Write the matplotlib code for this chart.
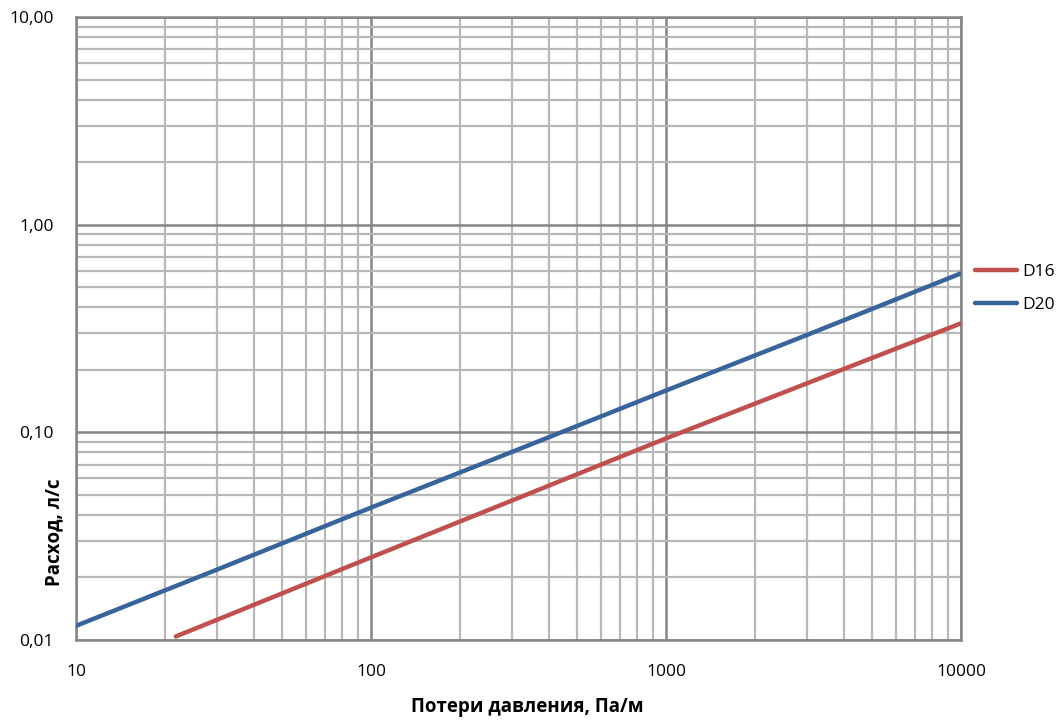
import matplotlib
matplotlib.use("Agg")
import matplotlib.pyplot as plt
from matplotlib.ticker import LogLocator, FixedLocator, NullFormatter

plt.rcParams['font.family'] = ['Open Sans', 'DejaVu Sans']

# Data
d16_x = [21.8, 100, 300, 1000, 3000, 10000]
d16_y = [0.0104, 0.0250, 0.0469, 0.0935, 0.172, 0.335]
d20_x = [10, 30, 100, 300, 1000, 3000, 10000]
d20_y = [0.0117, 0.0218, 0.0434, 0.0804, 0.159, 0.294, 0.583]

x_ticks = [10, 100, 1000, 10000]
x_tick_labels = ["10", "100", "1000", "10000"]
y_ticks = [0.01, 0.1, 1, 10]
y_tick_labels = ["0,01", "0,10", "1,00", "10,00"]

W, H = 1057, 721
L, R, T, B = 76, 961, 17, 640

fig = plt.figure(figsize=(W/100, H/100), dpi=100)
ax = fig.add_axes([L/W, 1-B/H, (R-L)/W, (B-T)/H])
ax.set_xscale('log')
ax.set_yscale('log')
ax.set_xlim(10, 10000)
ax.set_ylim(0.01, 10)

ax.xaxis.set_major_locator(FixedLocator(x_ticks))
ax.set_xticklabels(x_tick_labels)
ax.yaxis.set_major_locator(FixedLocator(y_ticks))
ax.set_yticklabels(y_tick_labels)
ax.xaxis.set_minor_locator(LogLocator(base=10, subs=range(2, 10), numticks=20))
ax.yaxis.set_minor_locator(LogLocator(base=10, subs=range(2, 10), numticks=20))
ax.xaxis.set_minor_formatter(NullFormatter())
ax.yaxis.set_minor_formatter(NullFormatter())

ax.grid(True, which='minor', color='#b8b8b8', linewidth=1.6, zorder=0)
ax.grid(True, which='major', color='#858585', linewidth=1.8, zorder=0)
ax.set_axisbelow(True)
for s in ax.spines.values():
    s.set_color('#858585')
    s.set_linewidth(1.8)
ax.tick_params(which='both', length=0)
ax.tick_params(axis='x', pad=17, labelsize=12.5)
ax.tick_params(axis='y', pad=16, labelsize=12.5)

ax.plot(d16_x, d16_y, color='#c0504d', linewidth=3.2, solid_capstyle='round', label='D16', zorder=3)
ax.plot(d20_x, d20_y, color='#37649b', linewidth=3.2, solid_capstyle='round', label='D20', zorder=3)

ax.set_xlabel('Потери давления, Па/м', fontsize=13.5, fontweight='bold', va='center')
ax.xaxis.set_label_coords((527-L)/(R-L), (B-707)/(B-T))
ax.set_ylabel('Расход, л/с', fontsize=13.5, fontweight='bold', va='center')
ax.yaxis.set_label_coords((54-L)/(R-L), (B-532)/(B-T))

fig.legend(loc='center left', bbox_to_anchor=(975/W, 1-288.5/H), frameon=False,
           fontsize=12.5, handlelength=2.4, handletextpad=0.3, labelspacing=0.95,
           borderaxespad=0, borderpad=0)

fig.savefig('out.png', dpi=100)
